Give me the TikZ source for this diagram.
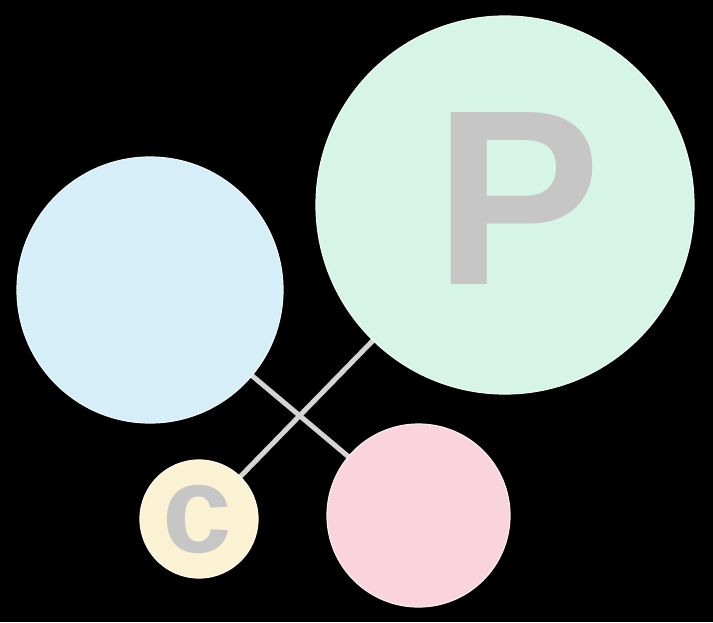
\documentclass[tikz,border=0pt]{standalone}
\usepackage{fontspec}
\setmainfont{Liberation Sans}
\usetikzlibrary{backgrounds}
\definecolor{ballblue}{HTML}{D5EEF8}
\definecolor{ballgreen}{HTML}{D6F5E6}
\definecolor{ballpink}{HTML}{FAD4DC}
\definecolor{ballyellow}{HTML}{FBF2D4}
\definecolor{lettergray}{HTML}{C6C6C6}
\definecolor{stickgray}{HTML}{D4D4D4}
\tikzset{
  ball/.style={circle, inner sep=0pt, draw=white!55!#1, line width=1.2pt, fill=#1},
  stick/.style={draw=stickgray, line width=5pt},
  letter/.style={inner sep=0pt, text=lettergray, font=\bfseries}
}
\begin{document}
\begin{tikzpicture}[x=1pt, y=-1pt]
  \useasboundingbox (0,0) rectangle (713,622);
  \node[ball=ballblue, minimum size=266pt] (blue) at (150,290) {};
  \node[ball=ballgreen, minimum size=378pt] (green) at (505,205) {};
  \node[ball=ballpink, minimum size=183pt] (pink) at (418.5,515.5) {};
  \node[ball=ballyellow, minimum size=118pt] (yellow) at (199,519) {};
  \begin{scope}[on background layer]
    \fill[black] (0,0) rectangle (713,622);
    \draw[stick] (blue.center) -- (pink.center);
    \draw[stick] (green.center) -- (yellow.center);
  \end{scope}
  \node[letter, font=\bfseries\fontsize{250}{250}\selectfont] (P) at (518,198.5) {P};
  \node[letter, font=\bfseries\fontsize{125}{125}\selectfont] (c) at (197,519) {c};
\end{tikzpicture}
\end{document}
